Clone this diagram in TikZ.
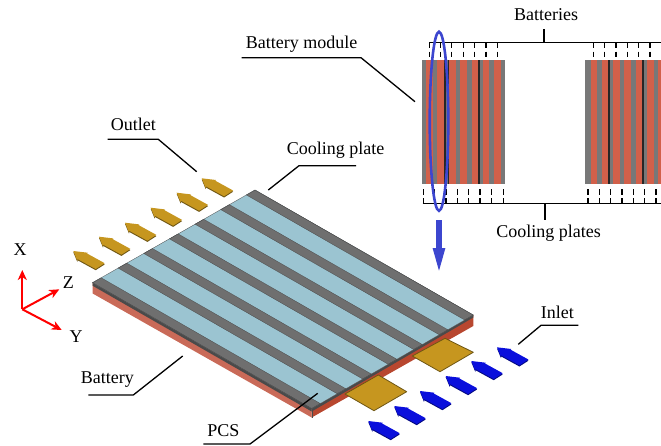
\documentclass[tikz,border=0pt]{standalone}
\usepackage{fontspec}
\setmainfont{Liberation Serif}
\usetikzlibrary{calc,arrows.meta}
\definecolor{gridgrey}{HTML}{6F6F6F}
\definecolor{edgegrey}{HTML}{4A4A4A}
\definecolor{icyblue}{HTML}{9BC4D1}
\definecolor{modred}{HTML}{D2604A}
\definecolor{modgrey}{HTML}{787878}
\definecolor{faceL}{HTML}{C96A58}
\definecolor{faceR}{HTML}{B8472F}
\definecolor{goldfill}{HTML}{C6961F}
\definecolor{goldedge}{HTML}{6E5614}
\definecolor{inblue}{HTML}{0A0FDC}
\definecolor{inedge}{HTML}{050A80}
\definecolor{markblue}{HTML}{3C46CF}
\tikzset{
  lbl/.style={font=\fontsize{18}{20}\selectfont,inner sep=0pt,text=black},
  leader/.style={draw=black,line width=1.3pt},
  bus/.style={draw=black,line width=1.4pt},
  tick/.style={draw=black,line width=1.4pt,dash pattern=on 5.5pt off 3.5pt},
  axis/.style={draw=red,line width=2pt,-{Stealth[length=10pt,width=9pt,inset=3pt]}},
  tab/.style={fill=goldfill,draw=goldedge,line width=0.8pt,line join=round}
}
\newcommand{\flatarrow}[4]{%
  \begin{scope}[shift={(#1,#2)}]
    \fill[#4] (0,1.2)--(14.3,2.9)--(13.4,3.5)--(31.4,13.4)--(22.4,19.2)--(4.2,9.2)--(4,10.9)--cycle;
    \fill[#3] (0,0)--(14.3,1.7)--(13.4,2.3)--(31.4,12.2)--(22.4,18)--(4.2,8)--(4,9.7)--cycle;
  \end{scope}}
\begin{document}
\begin{tikzpicture}[x=1pt,y=-1pt]
\useasboundingbox (0,0) rectangle (661,445);
% plate corners
\coordinate (L) at (92.5,282.7);
\coordinate (B) at (255,190);
\coordinate (R) at (473.3,315);
\coordinate (F) at (311.7,408.5);
% side faces
\fill[faceL] (L)--(F)--($(F)+(0,9)$)--($(L)+(0,10.7)$)--cycle;
\fill[faceR] (F)--(R)--($(R)+(0,11)$)--($(F)+(0,9)$)--cycle;
\fill[edgegrey] (L)--(F)--($(F)+(0,3)$)--($(L)+(0,3)$)--cycle;
\fill[edgegrey] (F)--(R)--($(R)+(0,2.5)$)--($(F)+(0,3)$)--cycle;
\draw[edgegrey,line width=0.4pt] ($(F)+(0,0)$)--($(F)+(0,9)$);
% top surface
\fill[icyblue] (L)--(B)--(R)--(F)--cycle;
\foreach \i in {0,...,6}{
  \pgfmathsetmacro{\ta}{\i*0.1578}
  \pgfmathsetmacro{\tb}{\ta+0.0532}
  \fill[gridgrey,draw=edgegrey,line width=0.3pt]
    ($(L)!\ta!(B)$)--($(L)!\tb!(B)$)--($(F)!\tb!(R)$)--($(F)!\ta!(R)$)--cycle;
}
\draw[edgegrey,line width=0.3pt] (L)--(B)--(R)--(F)--cycle;
% PCS tabs
\draw[tab] (345,394)--(378.3,375)--(406.7,391.7)--(374,410.7)--cycle;
\draw[tab] (412.3,356)--(445,338.3)--(473.3,352.3)--(440,371.7)--cycle;
% outlet arrows
\foreach \x/\y in {73.3/251,99/236.7,125/222.7,150.7/207.7,176.7/192.7,201.7/178.3}{
  \flatarrow{\x}{\y}{goldfill}{goldedge}
}
% inlet arrows
\foreach \x/\y in {368.3/421,394.3/406,420/391,445.7/376,471.3/361,497/347.3}{
  \flatarrow{\x}{\y}{inblue}{inedge}
}
% module stripes
\foreach \a/\b/\c in {65/79/modgrey,79/98/modred,98/112/modgrey,112/132/modred,132/146/modgrey,
  146/167/modred,167/181/modgrey,181/201/modred,201/215/modgrey,215/233/modred,233/249/modgrey,
  249/268/modred,268/282/modgrey,282/303/modred,303/316/modgrey,
  555/572/modgrey,572/592/modred,592/606/modgrey,606/625/modred,625/639/modgrey,
  639/659/modred,659/673/modgrey,673/694/modred,694/707/modgrey,707/726/modred,726/740/modgrey,
  740/762/modred,762/775/modgrey,775/783/modred}{
  \fill[\c] ({400+\a/3},60) rectangle ({400+\b/3},184);
}
\foreach \a/\b in {132/137,143/146,233/240,625/630,726/731}{
  \fill[black!85] ({400+\a/3},60) rectangle ({400+\b/3},184);
}
% buses and ticks
\coordinate (bt1) at (429.3,42.7); \coordinate (bt2) at (661,42.7);
\coordinate (bt3) at (544,42.7);   \coordinate (bt4) at (544,29);
\coordinate (bb1) at (422.7,203.7); \coordinate (bb2) at (661,203.7);
\coordinate (bb3) at (545,203.7);   \coordinate (bb4) at (545,220);
\draw[bus] (bt1)--(bt2);
\draw[bus] (bt3)--(bt4);
\draw[bus] (bb1)--(bb2);
\draw[bus] (bb3)--(bb4);
\foreach \x in {429.3,440.7,451.7,463.3,474.7,486,497.3,593.3,604.7,616,627.3,638.7,650}{
  \draw[tick] (\x,42.7)--(\x,58);
}
\foreach \x in {423.3,434.7,446,457.3,468.7,480,491.3,503.3,588,599.3,610.7,622,633.3,644.7,656}{
  \draw[tick] (\x,203.7)--(\x,186);
}
% highlight ellipse and arrow
\draw[markblue,line width=2.6pt] (439,121.3) ellipse [x radius=9.3,y radius=89.5];
\coordinate (da) at (439,220);
\coordinate (db) at (439,276);
\draw[markblue,line width=6pt,-{Triangle[length=28pt,width=10.5pt]}] (da)--(db);
% axes
\coordinate (O) at (22.3,309.3);
\coordinate (Xt) at (22.3,270);
\coordinate (Zt) at (59.3,289.3);
\coordinate (Yt) at (61.7,330);
\draw[axis] (O)--(Xt);
\draw[axis] (O)--(Zt);
\draw[axis] (O)--(Yt);
\node[lbl] (nx) at (20,250) {X};
\node[lbl] (nz) at (68.3,283) {Z};
\node[lbl] (ny) at (76,337) {Y};
% labels
\node[lbl] (batteries) at (546,15) {Batteries};
\node[lbl] (coolingplates) at (548.5,233) {Cooling plates};
\node[lbl] (module) at (301.7,44) {Battery module};
\node[lbl] (coolplate) at (335.7,150) {Cooling plate};
\node[lbl] (outlet) at (133.3,124) {Outlet};
\node[lbl] (inlet) at (557.3,312.5) {Inlet};
\node[lbl] (battery) at (107.3,380) {Battery};
\node[lbl] (pcs) at (223.3,430.7) {PCS};
% leaders
\coordinate (m1) at (241.7,57.7); \coordinate (m2) at (361,57.7); \coordinate (m3) at (415,101.7);
\draw[leader] (m1)--(m2)--(m3);
\coordinate (c1) at (356,165.7); \coordinate (c2) at (299,165.7); \coordinate (c3) at (268.3,190);
\draw[leader] (c1)--(c2)--(c3);
\coordinate (o1) at (107.7,139.3); \coordinate (o2) at (158.3,139.3); \coordinate (o3) at (196.7,171.7);
\draw[leader] (o1)--(o2)--(o3);
\coordinate (i1) at (578.3,325.3); \coordinate (i2) at (541,325.3); \coordinate (i3) at (518.3,344.3);
\draw[leader] (i1)--(i2)--(i3);
\coordinate (b1) at (88.3,395); \coordinate (b2) at (133.3,395); \coordinate (b3) at (182.7,356);
\draw[leader] (b1)--(b2)--(b3);
\coordinate (p1) at (203.3,444); \coordinate (p2) at (250,444); \coordinate (p3) at (317.7,393.3);
\draw[leader] (p1)--(p2)--(p3);
\end{tikzpicture}
\end{document}
